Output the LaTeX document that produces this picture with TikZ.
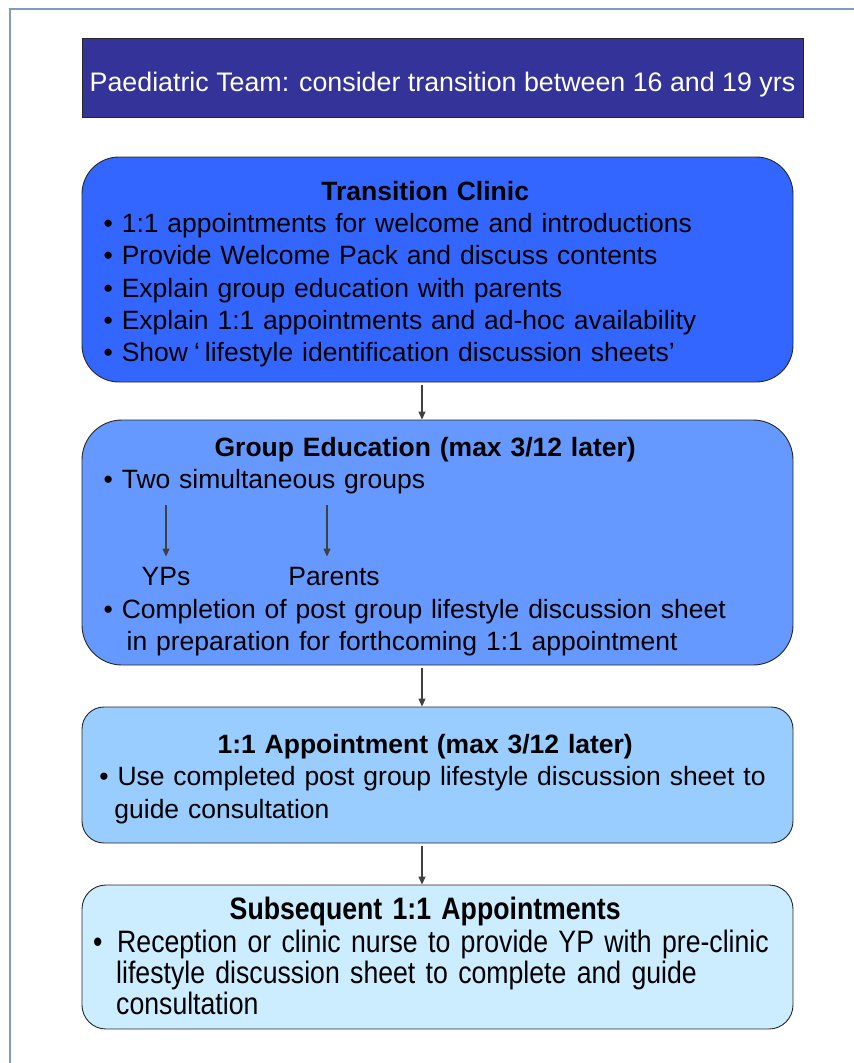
\documentclass[tikz,border=0pt]{standalone}
\usepackage{fontspec}
\setmainfont{Liberation Sans}
\newfontfamily\narrowfont[FakeStretch=0.86]{Liberation Sans}
\usetikzlibrary{arrows.meta}
\definecolor{teamblue}{RGB}{51,51,153}
\definecolor{clinicblue}{RGB}{51,102,255}
\definecolor{groupblue}{RGB}{102,153,255}
\definecolor{apptblue}{RGB}{153,204,255}
\definecolor{laterblue}{RGB}{204,236,255}
\definecolor{framegray}{RGB}{127,157,185}
\definecolor{arrowgray}{RGB}{64,64,64}

% centred bold title line, #1 is the width it is centred in
\newcommand{\heading}[2]{\makebox[#1]{\bfseries\strut #2}}

\begin{document}
\begin{tikzpicture}[x=1pt, y=-1pt,
  box/.style={draw=black!85, line width=0.9pt, minimum width=711pt, inner sep=0pt},
  txt/.style={anchor=north west, inner sep=0pt, text width=700pt, align=left, font=\fontsize{26.5}{32.3}\selectfont},
  sub/.style={anchor=base, inner sep=10pt, font=\fontsize{26.5}{32.3}\selectfont},
  flow/.style={draw=arrowgray, line width=1.2pt, -{Triangle[length=8pt,width=7pt]}}]

  \useasboundingbox (0,0) rectangle (854,1063);

  % outer frame (runs off the page on the right and bottom)
  \draw[framegray, line width=1.3pt] (10,1075) -- (10,9) -- (865,9);

  % Boxes (top to bottom)
  \node[box, fill=teamblue, minimum width=721pt, minimum height=79pt, text=white,
        text height=27pt, text depth=0pt, font=\fontsize{26.8}{32}\selectfont] (team) at (442.5,77.5)
        {Paediatric Team: consider transition between 16 and 19 yrs};
  \node[box, fill=clinicblue, minimum height=225pt, rounded corners=37pt] (clinic) at (437.5,269.5) {};
  \node[box, fill=groupblue, minimum height=245pt, rounded corners=40pt] (group) at (437.5,542.5) {};
  \node[box, fill=apptblue, minimum height=136pt, rounded corners=22pt] (appt) at (437.5,775) {};
  \node[box, fill=laterblue, minimum height=144pt, rounded corners=24pt] (later) at (437.5,957) {};

  % Box texts
  \node[txt] (clinictext) at (103.5,177.4) {\heading{643pt}{Transition Clinic}\\
    • 1:1 appointments for welcome and introductions\\
    • Provide Welcome Pack and discuss contents\\
    • Explain group education with parents\\
    • Explain 1:1 appointments and ad-hoc availability\\
    • Show\hspace{6pt}‘\hspace{5pt}lifestyle identification discussion sheets’};

  \node[txt] (grouptext) at (103.5,433.4) {\heading{643pt}{Group Education (max 3/12 later)}\\
    • Two simultaneous groups\\[97.4pt]
    • Completion of post group lifestyle discussion sheet\\
    \hspace*{23pt}in preparation for forthcoming 1:1 appointment};

  \node[sub] (yps) at (166,585) {YPs};
  \node[sub] (parents) at (334,585) {Parents};

  \node[txt] (appttext) at (99.2,730.7) {\heading{651.6pt}{1:1 Appointment (max 3/12 later)}\\
    • Use completed post group lifestyle discussion sheet to\\
    \hspace*{15pt}guide consultation};

  \node[txt, font=\narrowfont\fontsize{31}{31}\selectfont] (latertext) at (93,897.3)
    {\heading{664pt}{Subsequent 1:1 Appointments}\\
    \makebox[24pt][l]{•}Reception or clinic nurse to provide YP with pre-clinic\\
    \hspace*{23pt}lifestyle discussion sheet to complete and guide\\
    \hspace*{23pt}consultation};

  % the two groups
  \coordinate (ypsfrom) at (166,505);
  \coordinate (parfrom) at (327,505);
  \draw[flow] (ypsfrom) -- (yps.north);
  \draw[flow] (parfrom) -- (parfrom |- parents.north);

  % Flow between boxes
  \draw[flow, shorten <=3pt] ([xshift=-15.5pt]clinic.south) -- ([xshift=-15.5pt]group.north);
  \draw[flow, shorten <=3pt] ([xshift=-15.5pt]group.south) -- ([xshift=-15.5pt]appt.north);
  \draw[flow, shorten <=3pt] ([xshift=-15.5pt]appt.south) -- ([xshift=-15.5pt]later.north);

\end{tikzpicture}
\end{document}
